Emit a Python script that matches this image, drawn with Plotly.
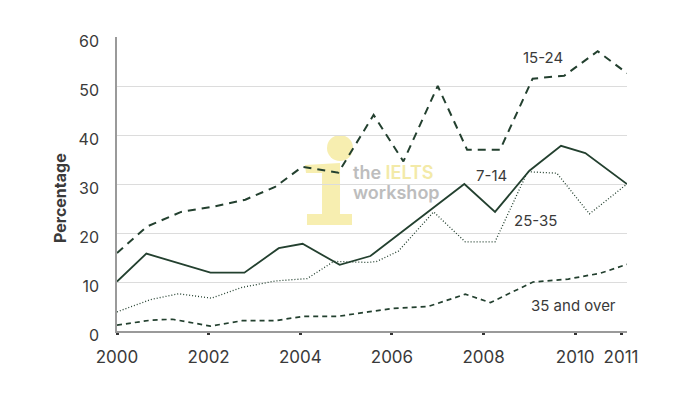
import plotly.graph_objects as go

# ---- data ----
x_15_24 = [2000.00, 2000.65, 2001.40, 2002.06, 2002.80, 2003.45, 2004.04, 2004.83, 2005.60,
           2006.25, 2007.00, 2007.64, 2008.36, 2009.07, 2009.76, 2010.49, 2011.13]
y_15_24 = [15.9, 21.3, 24.3, 25.3, 26.8, 29.4, 33.5, 32.3, 44.1,
           34.6, 50.0, 37.0, 37.0, 51.5, 52.1, 57.1, 52.6]

x_7_14 = [2000.00, 2000.64, 2002.04, 2002.78, 2003.53, 2004.05, 2004.86, 2005.53,
          2007.58, 2008.25, 2009.00, 2009.69, 2010.22, 2011.13]
y_7_14 = [10.1, 15.8, 11.9, 11.9, 16.9, 17.8, 13.5, 15.3,
          30.0, 24.3, 32.7, 37.8, 36.3, 30.0]

x_25_35 = [2000.00, 2000.73, 2001.34, 2002.06, 2002.73, 2003.45, 2004.15, 2004.73, 2005.48,
           2005.67, 2006.14, 2006.91, 2007.60, 2008.25, 2008.96, 2009.60, 2010.31, 2011.13]
y_25_35 = [3.9, 6.4, 7.6, 6.7, 8.9, 10.2, 10.7, 14.2, 14.0,
           14.2, 16.3, 24.3, 18.2, 18.2, 32.5, 32.2, 23.9, 30.0]

x_35_over = [2000.00, 2000.73, 2001.21, 2002.04, 2002.73, 2003.45, 2004.07, 2004.83, 2005.48,
             2006.01, 2006.79, 2007.60, 2008.15, 2009.08, 2009.85, 2010.55, 2011.13]
y_35_over = [1.2, 2.2, 2.4, 1.0, 2.1, 2.1, 3.0, 3.0, 3.9,
             4.6, 5.0, 7.5, 5.8, 10.0, 10.6, 11.8, 13.6]

series_labels = ["15-24", "7-14", "25-35", "35 and over"]
label_x = [2009.29, 2008.18, 2009.14, 2009.97]
label_y = [55.9, 31.8, 22.6, 5.3]

x_tickvals = [2000, 2002, 2004, 2006, 2008, 2010, 2011]
x_ticktext = ["2000", "2002", "2004", "2006", "2008", "2010", "2011"]
y_tickvals = [0, 10, 20, 30, 40, 50, 60]
y_title = "Percentage"

LINE = "#23402f"
FONT = "Inter"
TXT = "#3a3a3a"

W, H = 700, 416
ML, MR, MT, MB = 117, 73, 37, 85
PW, PH = W - ML - MR, H - MT - MB


def px(x, y):
    """pixel -> paper coords (decoration only)"""
    return (x - ML) / PW, (H - MB - y) / PH


fig = go.Figure()

fig.add_trace(go.Scatter(x=x_15_24, y=y_15_24, mode="lines", name="15-24",
                         line=dict(color=LINE, width=2, dash="8px,6px")))
fig.add_trace(go.Scatter(x=x_7_14, y=y_7_14, mode="lines", name="7-14",
                         line=dict(color=LINE, width=1.8)))
fig.add_trace(go.Scatter(x=x_25_35, y=y_25_35, mode="lines", name="25-35",
                         line=dict(color=LINE, width=1.3, dash="1px,2px")))
fig.add_trace(go.Scatter(x=x_35_over, y=y_35_over, mode="lines", name="35 and over",
                         line=dict(color=LINE, width=1.7, dash="5px,4px")))

for t, lx, ly in zip(series_labels, label_x, label_y):
    fig.add_annotation(x=lx, y=ly, xref="x", yref="y", text=t, showarrow=False,
                       font=dict(family=FONT, size=15, color=TXT),
                       xanchor="center", yanchor="middle")

# y-axis title placed as in the reference
tx0, ty0 = px(60, 198)
fig.add_annotation(x=tx0, y=ty0, xref="paper", yref="paper", text=f"<b>{y_title}</b>",
                   textangle=-90, showarrow=False,
                   font=dict(family=FONT, size=16, color=TXT),
                   xanchor="center", yanchor="middle")

# ---- watermark ("i" logo + text) ----
YEL = "#f7eeb0"
cx0, cy0 = px(327, 161)
cx1, cy1 = px(353, 135)
fig.add_shape(type="circle", xref="paper", yref="paper", x0=cx0, y0=cy0, x1=cx1, y1=cy1,
              fillcolor=YEL, line=dict(width=0), layer="between")
pts = [(305, 165), (340, 163), (340, 214), (352, 214), (352, 225), (307, 225),
       (307, 214), (322, 214), (322, 173), (306, 173)]
path = "M " + " L ".join(f"{px(a, b)[0]:.4f},{px(a, b)[1]:.4f}" for a, b in pts) + " Z"
fig.add_shape(type="path", xref="paper", yref="paper", path=path,
              fillcolor=YEL, line=dict(width=0), layer="between")
tx, ty = px(351, 172)
fig.add_annotation(x=tx, y=ty, xref="paper", yref="paper", showarrow=False,
                   text="the <span style='color:#f3eaa8'>IELTS</span>",
                   font=dict(family=FONT, size=18, color="#bdbdbd", weight=600),
                   xanchor="left", yanchor="middle")
tx2, ty2 = px(351, 192)
fig.add_annotation(x=tx2, y=ty2, xref="paper", yref="paper", showarrow=False,
                   text="workshop",
                   font=dict(family=FONT, size=18, color="#bdbdbd", weight=600),
                   xanchor="left", yanchor="middle")

fig.update_layout(
    width=W, height=H,
    margin=dict(l=ML, r=MR, t=MT, b=MB),
    paper_bgcolor="white", plot_bgcolor="white",
    showlegend=False,
    font=dict(family=FONT, color=TXT),
)
fig.update_xaxes(range=[2000, 2011.13], tickvals=x_tickvals, ticktext=x_ticktext,
                 showgrid=False, zeroline=False, showline=True, linecolor="#9a9a9a",
                 linewidth=1.5, ticks="outside", ticklen=2, tickwidth=3, tickcolor="#333333",
                 tickfont=dict(family=FONT, size=17, color=TXT), ticklabelstandoff=8)
fig.update_yaxes(range=[0, 60], tickvals=y_tickvals, showgrid=True, gridcolor="#dcdcdc",
                 gridwidth=1, zeroline=False, showline=True, linecolor="#9a9a9a",
                 linewidth=1.5, ticks="", tickfont=dict(family=FONT, size=16, color=TXT),
                 ticklabelstandoff=13, ticklabelshift=4)

fig.write_html("out.html")
